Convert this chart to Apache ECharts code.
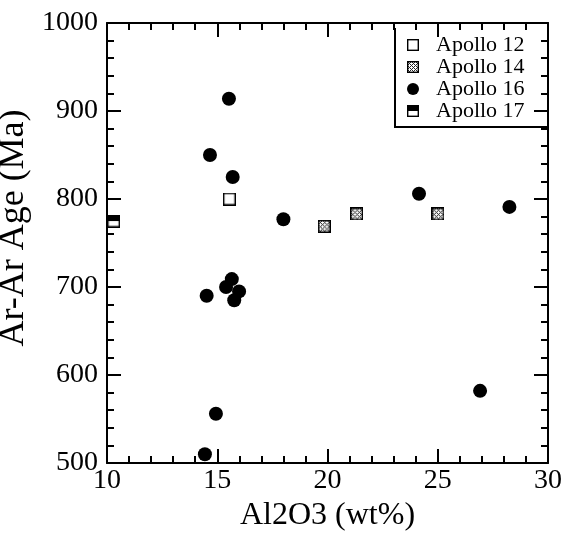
<!DOCTYPE html>
<html><head><meta charset="utf-8">
<script src="https://cdn.jsdelivr.net/npm/echarts@6/dist/echarts.min.js"></script>
<style>html,body{margin:0;padding:0;background:#fff}#c{width:569px;height:533px}</style>
</head><body><div id="c"></div>
<script>
// ---- data (Al2O3 wt%, Ar-Ar age Ma) ----
const seriesNames = ['Apollo 12', 'Apollo 14', 'Apollo 16', 'Apollo 17'];
const apollo12 = [[15.55, 800]];
const apollo14 = [[19.85, 769], [21.32, 783], [25.01, 783]];
const apollo16 = [
  [15.53, 914], [14.67, 850], [15.70, 825], [18.0, 777], [24.15, 806], [28.25, 791],
  [15.66, 709], [15.40, 700], [15.99, 695], [15.77, 685], [14.52, 690],
  [14.94, 556], [14.44, 510], [26.92, 582]
];
const apollo17 = [[10.3, 775]];
const xTicks = [10, 15, 20, 25, 30];
const yTicks = [500, 600, 700, 800, 900, 1000];

const FONT = "'Liberation Serif','Times New Roman',serif";

function makeIcon(kind) {
  const s = 12, c = document.createElement('canvas');
  c.width = s; c.height = s;
  const g = c.getContext('2d');
  g.fillStyle = '#fff'; g.fillRect(0, 0, s, s);
  if (kind === 'hatch') {
    const img = g.getImageData(0, 0, s, s);
    for (let j = 0; j < s; j++) for (let i = 0; i < s; i++) {
      const k = (j * s + i) * 4;
      const dark = ((i + j) % 4 === 0) || (((i - j) % 4 + 4) % 4 === 0);
      const v = dark ? 40 : 255;
      img.data[k] = img.data[k + 1] = img.data[k + 2] = v; img.data[k + 3] = 255;
    }
    g.putImageData(img, 0, 0);
  }
  if (kind === 'half') {
    g.fillStyle = '#000'; g.fillRect(0, 0, s, s / 2);
  }
  g.strokeStyle = '#000'; g.lineWidth = 1.4;
  g.strokeRect(0.7, 0.7, s - 1.4, s - 1.4);
  return 'image://' + c.toDataURL();
}
const iconOpen = makeIcon('open');
const iconHatch = makeIcon('hatch');
const iconHalf = makeIcon('half');

const chart = echarts.init(document.getElementById('c'), null, {renderer: 'canvas'});

const baseX = {
  type: 'value', min: xTicks[0], max: xTicks[xTicks.length - 1], interval: 5,
  axisLine: {show: true, onZero: false, lineStyle: {color: '#000', width: 2}},
  axisTick: {show: true, inside: true, length: 14, lineStyle: {color: '#000', width: 2}},
  minorTick: {show: true, splitNumber: 5, length: 7, lineStyle: {color: '#000', width: 2}},
  splitLine: {show: false}
};
const baseY = {
  type: 'value', min: yTicks[0], max: yTicks[yTicks.length - 1], interval: 100,
  axisLine: {show: true, onZero: false, lineStyle: {color: '#000', width: 2}},
  axisTick: {show: true, inside: true, length: 14, lineStyle: {color: '#000', width: 2}},
  minorTick: {show: true, splitNumber: 5, length: 7, lineStyle: {color: '#000', width: 2}},
  splitLine: {show: false}
};

chart.setOption({
  backgroundColor: '#fff',
  animation: false,
  grid: {left: 107, right: 21, top: 23, bottom: 70, containLabel: false, outerBoundsMode: 'none'},
  xAxis: [
    Object.assign({}, baseX, {
      position: 'bottom',
      name: 'Al2O3 (wt%)', nameLocation: 'middle', nameGap: 32,
      nameTextStyle: {color: '#000', fontFamily: FONT, fontSize: 32},
      axisLabel: {color: '#000', fontFamily: FONT, fontSize: 28, margin: 4, formatter: v => String(v)}
    }),
    Object.assign({}, baseX, {position: 'top', axisLabel: {show: false}})
  ],
  yAxis: [
    Object.assign({}, baseY, {
      position: 'left',
      name: 'Ar-Ar Age (Ma)', nameLocation: 'middle', nameGap: 64,
      nameTextStyle: {color: '#000', fontFamily: FONT, fontSize: 36, padding: [0, 0, 0, 30]},
      axisLabel: {color: '#000', fontFamily: FONT, fontSize: 28, margin: 9, formatter: v => String(v)}
    }),
    Object.assign({}, baseY, {position: 'right', axisLabel: {show: false}})
  ],
  legend: {
    orient: 'vertical', left: 407, top: 34,
    padding: 0, itemGap: 0, itemWidth: 12, itemHeight: 12,
    data: [
      {name: seriesNames[0], icon: iconOpen},
      {name: seriesNames[1], icon: iconHatch},
      {name: seriesNames[2], icon: 'circle', itemStyle: {color: '#000', opacity: 1}},
      {name: seriesNames[3], icon: iconHalf}
    ],
    textStyle: {color: '#000', fontFamily: FONT, fontSize: 22, lineHeight: 22, padding: [0, 0, 0, 12]}
  },
  graphic: [{
    type: 'polyline', silent: true,
    shape: {points: [[395, 28], [395, 127], [548, 127]]},
    style: {stroke: '#000', lineWidth: 2, fill: null}
  }],
  series: [
    {name: seriesNames[0], type: 'scatter', data: apollo12, symbol: iconOpen, symbolSize: 13, clip: false, z: 3,
      itemStyle: {opacity: 1}},
    {name: seriesNames[1], type: 'scatter', data: apollo14, symbol: iconHatch, symbolSize: 13, clip: false, z: 3,
      itemStyle: {opacity: 1}},
    {name: seriesNames[2], type: 'scatter', data: apollo16, symbol: 'circle', symbolSize: 14, clip: false, z: 3,
      itemStyle: {color: '#000', opacity: 1}},
    {name: seriesNames[3], type: 'scatter', data: apollo17, symbol: iconHalf, symbolSize: 13, clip: false, z: 3,
      itemStyle: {opacity: 1}}
  ]
});
</script>
</body></html>
